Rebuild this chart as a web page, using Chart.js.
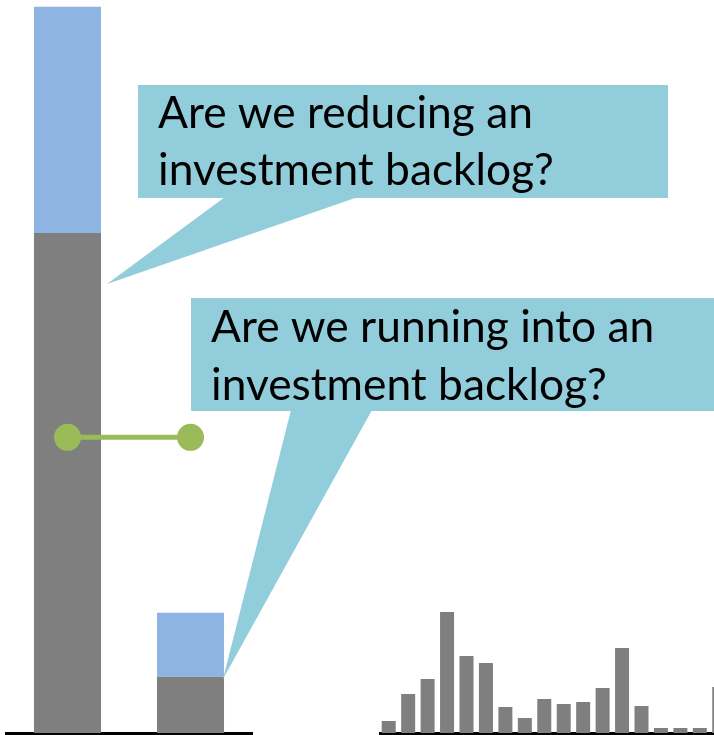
<!DOCTYPE html>
<html>
<head>
<meta charset="utf-8">
<script src="https://cdn.jsdelivr.net/npm/chart.js@4.4.0/dist/chart.umd.min.js"></script>
<style>
  html, body { margin: 0; padding: 0; background: #fff; overflow: hidden; width: 714px; height: 735px; }
  #wrap { position: relative; width: 714px; height: 735px; }
  #main { position: absolute; left: 0; top: 0; }
  #hist { position: absolute; left: 379px; top: 590px; }
</style>
</head>
<body>
<div id="wrap">
  <canvas id="hist" width="350" height="145"></canvas>
  <canvas id="main" width="714" height="735"></canvas>
</div>
<script>
// left pair of stacked bars
const groups = ['Before', 'After'];
const coveredValues = [102.3, 11.5];
const backlogValues = [46.3, 13.1];
const trendValues = [60.5, 60.5];

// small histogram on the right
const histLabels = ['1','2','3','4','5','6','7','8','9','10','11','12','13','14','15','16','17','18'];
const histValues = [12, 39, 54, 121, 77, 70, 26, 15, 34, 29, 31, 45, 85, 27, 5, 5, 5, 46];

const bubbleTexts = [
  ['Are we reducing an', 'investment backlog?'],
  ['Are we running into an', 'investment backlog?']
];

const GREY = '#7F7F7F';
const BLUE = '#8EB4E3';
const GREEN = '#9BBB59';
const CALLOUT = '#92CDDC';

// callout shapes, drawn over the chart
const bubbles = [
  { rect: [138, 85, 530, 113], tail: [[225, 197], [358, 197], [107, 284]], tx: 158, lines: [128, 185] },
  { rect: [191, 298, 523, 113], tail: [[291, 410], [372, 410], [223, 679]], tx: 211, lines: [342, 400] }
];

const calloutPlugin = {
  id: 'callouts',
  afterDraw(chart) {
    const ctx = chart.ctx;
    ctx.save();
    // fit font so the first line is as wide as in the picture
    ctx.font = '100px Lato';
    const size = 100 * 375 / ctx.measureText(bubbleTexts[0][0]).width;
    bubbles.forEach((b, i) => {
      ctx.fillStyle = CALLOUT;
      ctx.fillRect(b.rect[0], b.rect[1], b.rect[2], b.rect[3]);
      ctx.beginPath();
      ctx.moveTo(b.tail[0][0], b.tail[0][1]);
      ctx.lineTo(b.tail[1][0], b.tail[1][1]);
      ctx.lineTo(b.tail[2][0], b.tail[2][1]);
      ctx.closePath();
      ctx.fill();
      ctx.fillStyle = '#000';
      ctx.font = size + 'px Lato';
      ctx.textBaseline = 'alphabetic';
      ctx.textAlign = 'left';
      bubbleTexts[i].forEach((t, j) => ctx.fillText(t, b.tx, b.lines[j]));
    });
    ctx.restore();
  }
};

new Chart(document.getElementById('main'), {
  type: 'bar',
  data: {
    labels: groups,
    datasets: [
      {
        type: 'line',
        data: trendValues,
        borderColor: GREEN,
        backgroundColor: GREEN,
        borderWidth: 5,
        pointRadius: 11,
        pointHoverRadius: 11,
        stack: 'trend',
        order: 0
      },
      {
        data: coveredValues,
        backgroundColor: GREY,
        stack: 'bars',
        order: 1,
        barPercentage: 1,
        categoryPercentage: 0.545
      },
      {
        data: backlogValues,
        backgroundColor: BLUE,
        stack: 'bars',
        order: 2,
        barPercentage: 1,
        categoryPercentage: 0.545
      }
    ]
  },
  options: {
    responsive: false,
    animation: false,
    events: [],
    layout: { autoPadding: false, padding: { left: 6, right: 462, top: 0, bottom: 2 } },
    plugins: { legend: { display: false }, tooltip: { enabled: false } },
    scales: {
      x: {
        stacked: true,
        grid: { display: false, drawTicks: false },
        ticks: { display: false },
        border: { display: true, color: '#000', width: 3 }
      },
      y: { stacked: true, display: false, min: 0, max: 150 }
    }
  },
  plugins: [calloutPlugin]
});

new Chart(document.getElementById('hist'), {
  type: 'bar',
  data: {
    labels: histLabels,
    datasets: [{
      data: histValues,
      backgroundColor: GREY,
      barPercentage: 0.72,
      categoryPercentage: 1
    }]
  },
  options: {
    responsive: false,
    animation: false,
    events: [],
    layout: { autoPadding: false, padding: { left: 0, right: 0, top: 0, bottom: 2 } },
    plugins: { legend: { display: false }, tooltip: { enabled: false } },
    scales: {
      x: {
        grid: { display: false, drawTicks: false },
        ticks: { display: false },
        border: { display: true, color: '#000', width: 3 }
      },
      y: { display: false, min: 0, max: 143 }
    }
  }
});
</script>
</body>
</html>
